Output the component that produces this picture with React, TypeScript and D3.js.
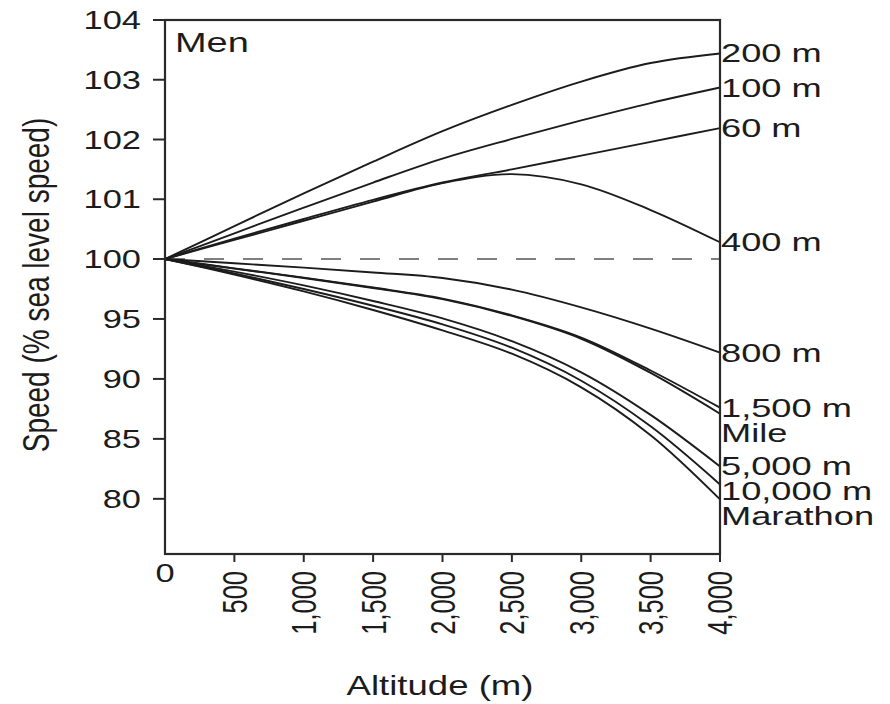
import React from "react";
import * as d3 from "d3";

// Altitude grid (m) shared by every event curve
const altitudes = [0, 500, 1000, 1500, 2000, 2500, 3000, 3500, 4000];

// Speed relative to sea level (%) for each event
const speed200m = [100, 100.55, 101.1, 101.63, 102.14, 102.58, 102.97, 103.28, 103.44];
const speed100m = [100, 100.43, 100.86, 101.28, 101.68, 102.01, 102.32, 102.61, 102.87];
const speed60m = [100, 100.34, 100.67, 100.99, 101.28, 101.5, 101.73, 101.96, 102.19];
const speed400m = [100, 100.32, 100.64, 100.96, 101.27, 101.42, 101.25, 100.82, 100.28];
const speed800m = [100, 99.65, 99.28, 98.88, 98.42, 97.45, 95.97, 94.2, 92.2];
const speed1500m = [100, 99.22, 98.45, 97.62, 96.7, 95.3, 93.45, 90.7, 87.6];
const speedMile = [100, 99.2, 98.42, 97.58, 96.65, 95.25, 93.35, 90.5, 87.1];
const speed5000m = [100, 98.95, 97.8, 96.5, 95.05, 93.15, 90.55, 87.0, 82.7];
const speed10000m = [100, 98.8, 97.5, 96.1, 94.55, 92.6, 89.85, 86.05, 81.2];
const speedMarathon = [100, 98.7, 97.3, 95.75, 94.05, 92.1, 89.3, 85.3, 79.95];

const eventNames = ["200 m", "100 m", "60 m", "400 m", "800 m", "1,500 m", "Mile", "5,000 m", "10,000 m", "Marathon"];
const eventSpeeds = [speed200m, speed100m, speed60m, speed400m, speed800m, speed1500m, speedMile, speed5000m, speed10000m, speedMarathon];

const xTicks = [0, 500, 1000, 1500, 2000, 2500, 3000, 3500, 4000];
const yTicks = [80, 85, 90, 95, 100, 101, 102, 103, 104];

const W = 890;
const H = 704;
const FONT = "'Liberation Sans', Arial, Helvetica, sans-serif";
const INK = "#1c1c1c";
const SX = 1.35; // horizontal widening of the lettering

export default function App() {
  const x = d3.scaleLinear().domain([0, 4000]).range([165, 720]);
  // Split scale: 1 % per step above sea level speed, 5 % per step below
  const y = d3.scaleLinear().domain([75.4, 100, 104]).range([554, 259, 20]);

  const line = d3
    .line<number>()
    .x((_, i) => x(altitudes[i]))
    .y((v) => y(v))
    .curve(d3.curveCatmullRom.alpha(0.5));

  // End labels: start at each curve's end, pushed down to keep a minimum gap
  const ends = eventSpeeds.map((s, i) => ({ name: eventNames[i], y: y(s[s.length - 1]) }));
  const sorted = [...ends].sort((a, b) => a.y - b.y);
  const gap = 25;
  for (let i = 1; i < sorted.length; i++) {
    if (sorted[i].y < sorted[i - 1].y + gap) sorted[i].y = sorted[i - 1].y + gap;
  }

  const [x0, x1] = x.range();
  const yTop = y(104);
  const yBot = y.range()[0];

  return (
    <svg width={W} height={H} style={{ display: "block", position: "absolute", left: 0, top: 0, background: "#fff" }}>
      <rect x={0} y={0} width={W} height={H} fill="#fff" />

      {/* reference line at sea level speed */}
      <line x1={x0} x2={x1} y1={y(100)} y2={y(100)} stroke="#555" strokeWidth={1.6} strokeDasharray="20 19" />

      {/* event curves */}
      {eventSpeeds.map((s, i) => (
        <path key={eventNames[i]} d={line(s) || ""} fill="none" stroke={INK} strokeWidth={1.9} />
      ))}

      {/* frame */}
      <rect x={x0} y={yTop} width={x1 - x0} height={yBot - yTop} fill="none" stroke="#2a2a2a" strokeWidth={2.2} />

      {/* y axis ticks and labels */}
      {yTicks.map((t) => (
        <g key={t}>
          <line x1={x0 - 12} x2={x0} y1={y(t)} y2={y(t)} stroke="#2a2a2a" strokeWidth={2} />
          <text
            transform={`translate(${x0 - 24},${y(t)}) scale(${SX},1)`}
            dy="0.36em"
            textAnchor="end"
            fontFamily={FONT}
            fontSize={25.5}
            fill={INK}
          >
            {t}
          </text>
        </g>
      ))}

      {/* x axis ticks and labels */}
      {xTicks.map((t) => (
        <g key={t}>
          {t > 0 && <line x1={x(t)} x2={x(t)} y1={yBot} y2={yBot + 8} stroke="#2a2a2a" strokeWidth={2} />}
          {t === 0 ? (
            <text
              transform={`translate(${x(t)},${yBot + 28}) scale(${SX},1)`}
              textAnchor="middle"
              fontFamily={FONT}
              fontSize={25.5}
              fill={INK}
            >
              {d3.format(",")(t)}
            </text>
          ) : (
            <text
              transform={`translate(${x(t)},${yBot + 17}) scale(${SX},1) rotate(-90)`}
              dy="0.36em"
              textAnchor="end"
              fontFamily={FONT}
              fontSize={25.5}
              fill={INK}
            >
              {d3.format(",")(t)}
            </text>
          )}
        </g>
      ))}

      {/* curve labels at the right edge */}
      {sorted.map((e) => (
        <text
          key={e.name}
          transform={`translate(${x1 + 1},${e.y}) scale(1.45,1)`}
          dy="0.36em"
          fontFamily={FONT}
          fontSize={25}
          fill={INK}
        >
          {e.name}
        </text>
      ))}

      {/* panel title */}
      <text transform={`translate(${x0 + 10},52) scale(1.38,1)`} fontFamily={FONT} fontSize={27.5} fill={INK}>
        Men
      </text>

      {/* axis titles */}
      <text
        transform={`translate(440,695) scale(1.33,1)`}
        textAnchor="middle"
        fontFamily={FONT}
        fontSize={27.5}
        fill={INK}
      >
        Altitude (m)
      </text>
      <text
        transform={`translate(35,285) scale(${SX},1) rotate(-90)`}
        dy="0.36em"
        textAnchor="middle"
        fontFamily={FONT}
        fontSize={28}
        fill={INK}
      >
        Speed (% sea level speed)
      </text>
    </svg>
  );
}
